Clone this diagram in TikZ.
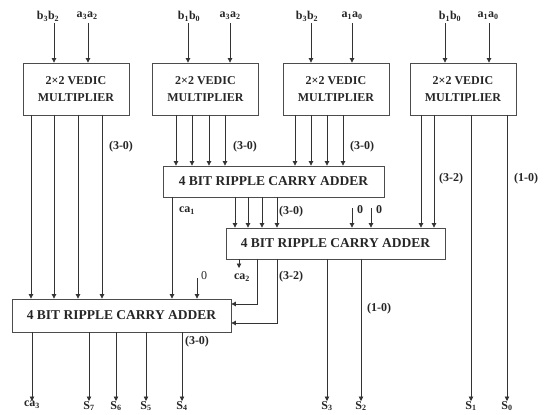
\documentclass[tikz,border=0pt]{standalone}
\usepackage{fontspec}
\setmainfont{Liberation Serif}
\usetikzlibrary{arrows.meta}
\begin{document}
\begin{tikzpicture}[x=1pt,y=-1pt,
 line/.style={draw=black!80, line width=0.7pt},
 arr/.style={line, -{Triangle[length=4.5pt,width=4.5pt]}},
 vm/.style={draw=black!70, line width=0.8pt, minimum width=106pt, minimum height=52pt, inner sep=0pt, align=center, font=\fontsize{12}{17}\selectfont\bfseries, text=black!85},
 rca/.style={draw=black!70, line width=0.8pt, minimum height=31pt, inner sep=0pt, font=\fontsize{13.5}{16}\selectfont\bfseries, text=black!85},
 lbl/.style={inner sep=0pt, font=\fontsize{12}{14}\selectfont\bfseries, text=black!85}
]
\useasboundingbox (0,0) rectangle (544,415);

% multipliers
\node[vm] (vm1) at (76,89) {2×2 VEDIC\\MULTIPLIER};
\node[vm] (vm2) at (205.5,89) {2×2 VEDIC\\MULTIPLIER};
\node[vm] (vm3) at (336,89) {2×2 VEDIC\\MULTIPLIER};
\node[vm] (vm4) at (463,89) {2×2 VEDIC\\MULTIPLIER};

% adders
\node[rca, minimum width=221pt] (rca1) at (273.5,181.5) {4 BIT RIPPLE CARRY ADDER};
\node[rca, minimum width=219pt] (rca2) at (335.5,243.5) {4 BIT RIPPLE CARRY ADDER};
\node[rca, minimum width=219pt, minimum height=33pt] (rca3) at (121.5,315.5) {4 BIT RIPPLE CARRY ADDER};

% input labels
\node[lbl] (in1b) at (48,16) {b\textsubscript{3}b\textsubscript{2}};
\node[lbl] (in1a) at (87,16) {a\textsubscript{3}a\textsubscript{2}};
\node[lbl] (in2b) at (189,16) {b\textsubscript{1}b\textsubscript{0}};
\node[lbl] (in2a) at (230,16) {a\textsubscript{3}a\textsubscript{2}};
\node[lbl] (in3b) at (307,16) {b\textsubscript{3}b\textsubscript{2}};
\node[lbl] (in3a) at (352,16) {a\textsubscript{1}a\textsubscript{0}};
\node[lbl] (in4b) at (450,16) {b\textsubscript{1}b\textsubscript{0}};
\node[lbl] (in4a) at (488,16) {a\textsubscript{1}a\textsubscript{0}};

\foreach \n/\x/\v in {i1/54/vm1, i2/88/vm1, i3/188/vm2, i4/230/vm2, i5/311/vm3, i6/352/vm3, i7/445/vm4, i8/489/vm4}{
  \coordinate (\n) at (\x,23);
  \draw[arr] (\n) -- (\v.north -| \n);
}

% output labels
\node[lbl, anchor=north] (ca3) at (32,401) {ca\textsubscript{3}};
\node[lbl, anchor=north] (S7) at (89,401) {S\textsubscript{7}};
\node[lbl, anchor=north] (S6) at (116,401) {S\textsubscript{6}};
\node[lbl, anchor=north] (S5) at (146,401) {S\textsubscript{5}};
\node[lbl, anchor=north] (S4) at (182,401) {S\textsubscript{4}};
\node[lbl, anchor=north] (S3) at (327,401) {S\textsubscript{3}};
\node[lbl, anchor=north] (S2) at (361,401) {S\textsubscript{2}};
\node[lbl, anchor=north] (S1) at (471,401) {S\textsubscript{1}};
\node[lbl, anchor=north] (S0) at (507,401) {S\textsubscript{0}};

% multiplier outputs
\foreach \x in {31,54,78,102} \draw[arr] (vm1.south -| \x,0) -- (rca3.north -| \x,0);
\foreach \x in {176,192,209,225} \draw[arr] (vm2.south -| \x,0) -- (rca1.north -| \x,0);
\foreach \x in {295,311,327,343} \draw[arr] (vm3.south -| \x,0) -- (rca1.north -| \x,0);
\foreach \x in {421,434} \draw[arr] (vm4.south -| \x,0) -- (rca2.north -| \x,0);
\draw[arr] (vm4.south -| S1) -- (S1.north);
\draw[arr] (vm4.south -| S0) -- (S0.north);

% adder 1 outputs
\foreach \x in {235,248,262,277} \draw[arr] (rca1.south -| \x,0) -- (rca2.north -| \x,0);
\draw[arr] (rca1.south -| 172,0) -- (rca3.north -| 172,0);

% zero inputs
\coordinate (z1) at (352,208);
\coordinate (z2) at (371,208);
\coordinate (z3) at (197,278);
\draw[arr] (z1) -- (rca2.north -| z1);
\draw[arr] (z2) -- (rca2.north -| z2);
\draw[arr] (z3) -- (rca3.north -| z3);
\node[lbl] (z1l) at (360,210) {0};
\node[lbl] (z2l) at (379,210) {0};
\node[lbl, font=\fontsize{12}{14}\selectfont] (z3l) at (204,276) {0};

% adder 2 outputs
\coordinate (c2e) at (239,268);
\draw[arr] (rca2.south -| c2e) -- (c2e);
\node[lbl] (ca2) at (242,278) {ca\textsubscript{2}};
\draw[arr] (rca2.south -| 257,0) |- (rca3.east |- 0,304);
\draw[arr] (rca2.south -| 277,0) |- (rca3.east |- 0,323);
\draw[arr] (rca2.south -| S3) -- (S3.north);
\draw[arr] (rca2.south -| S2) -- (S2.north);

% adder 3 outputs
\draw[arr] (rca3.south -| ca3) -- (ca3.north);
\foreach \s in {S7,S6,S5,S4} \draw[arr] (rca3.south -| \s) -- (\s.north);

% bus labels
\node[lbl] (b1) at (121,147) {(3-0)};
\node[lbl] (b2) at (245,147) {(3-0)};
\node[lbl] (b3) at (362,147) {(3-0)};
\node[lbl] (b4) at (451,179) {(3-2)};
\node[lbl] (b5) at (526,179) {(1-0)};
\node[lbl] (ca1) at (187,211) {ca\textsubscript{1}};
\node[lbl] (b6) at (291,212) {(3-0)};
\node[lbl] (b7) at (291,277) {(3-2)};
\node[lbl] (b8) at (379,309) {(1-0)};
\node[lbl] (b9) at (197,342) {(3-0)};
\end{tikzpicture}
\end{document}
